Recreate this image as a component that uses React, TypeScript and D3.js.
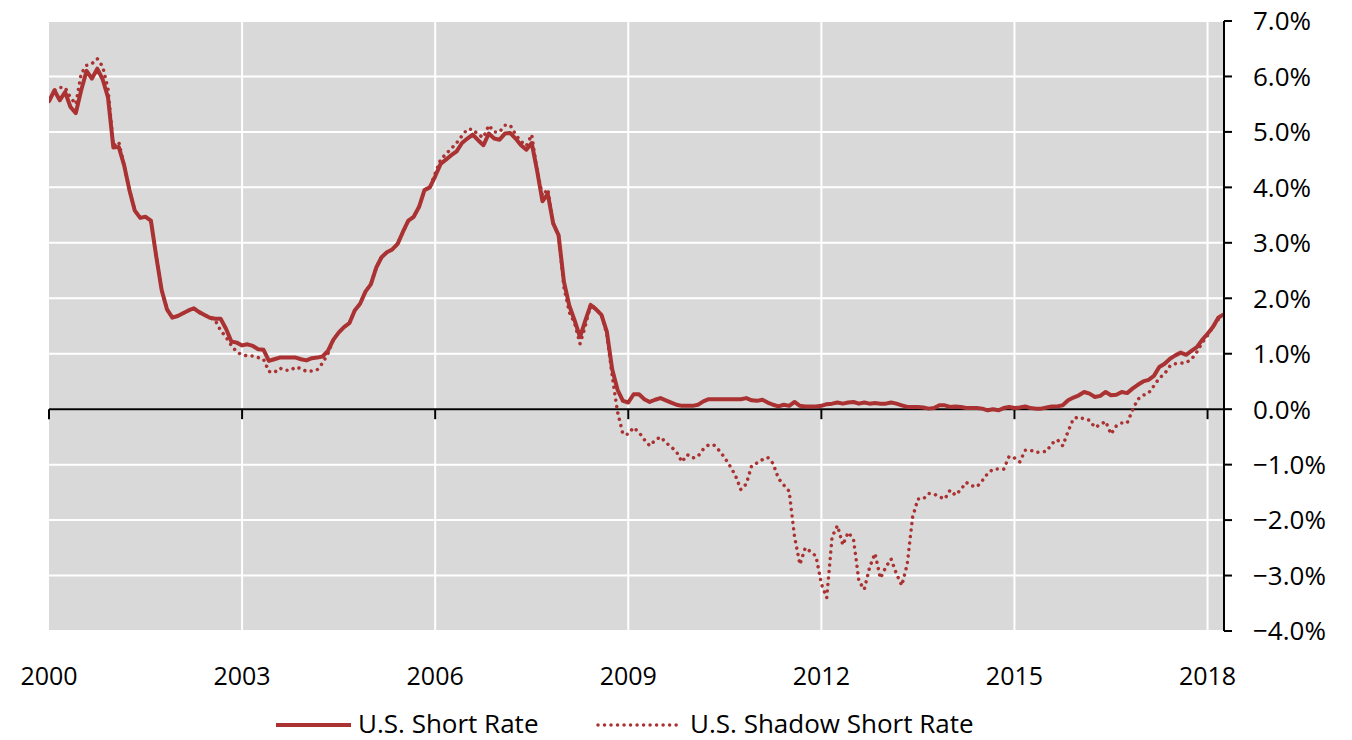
import React from "react";
import * as d3 from "d3";

document.body.style.margin = "0";

const startYear = 2000;
const shortRate: number[] = [
  // 2000
  5.55, 5.75, 5.57, 5.72, 5.45, 5.34, 5.75, 6.10, 5.96, 6.14, 5.95, 5.62,
  // 2001
  4.72, 4.73, 4.40, 3.95, 3.58, 3.45, 3.47, 3.40, 2.75, 2.15, 1.80, 1.65,
  // 2002
  1.68, 1.73, 1.78, 1.82, 1.75, 1.70, 1.65, 1.63, 1.63, 1.45, 1.22, 1.20,
  // 2003
  1.15, 1.17, 1.14, 1.08, 1.07, 0.87, 0.90, 0.93, 0.93, 0.93, 0.93, 0.90,
  // 2004
  0.88, 0.92, 0.93, 0.95, 1.05, 1.25, 1.38, 1.48, 1.55, 1.78, 1.90, 2.12,
  // 2005
  2.25, 2.55, 2.74, 2.83, 2.88, 2.98, 3.20, 3.40, 3.47, 3.65, 3.95, 4.00,
  // 2006
  4.20, 4.42, 4.50, 4.58, 4.65, 4.80, 4.88, 4.95, 4.85, 4.76, 4.97, 4.88,
  // 2007
  4.86, 4.97, 4.98, 4.88, 4.76, 4.68, 4.80, 4.30, 3.75, 3.88, 3.35, 3.14,
  // 2008
  2.30, 1.87, 1.60, 1.30, 1.60, 1.88, 1.80, 1.70, 1.40, 0.72, 0.35, 0.15,
  // 2009
  0.12, 0.27, 0.27, 0.18, 0.13, 0.17, 0.20, 0.16, 0.12, 0.08, 0.06, 0.06,
  // 2010
  0.06, 0.08, 0.14, 0.18, 0.18, 0.18, 0.18, 0.18, 0.18, 0.18, 0.20, 0.16,
  // 2011
  0.15, 0.17, 0.12, 0.08, 0.05, 0.08, 0.06, 0.13, 0.06, 0.05, 0.05, 0.05,
  // 2012
  0.06, 0.09, 0.10, 0.12, 0.10, 0.12, 0.13, 0.10, 0.12, 0.10, 0.11, 0.10,
  // 2013
  0.10, 0.12, 0.10, 0.07, 0.04, 0.04, 0.04, 0.03, 0.01, 0.02, 0.07, 0.07,
  // 2014
  0.04, 0.05, 0.04, 0.02, 0.02, 0.02, 0.01, -0.02, 0.00, -0.02, 0.02, 0.04,
  // 2015
  0.02, 0.03, 0.05, 0.02, 0.01, 0.01, 0.03, 0.05, 0.05, 0.07, 0.16, 0.21,
  // 2016
  0.25, 0.31, 0.28, 0.22, 0.24, 0.31, 0.25, 0.26, 0.31, 0.29, 0.37, 0.44,
  // 2017
  0.50, 0.53, 0.60, 0.76, 0.82, 0.91, 0.97, 1.02, 0.98, 1.05, 1.12, 1.25,
  // 2018
  1.36, 1.48, 1.65, 1.71,
];

const shadowRate: number[] = [
  // 2000
  5.55, 5.75, 5.80, 5.80, 5.62, 5.50, 6.05, 6.20, 6.23, 6.32, 6.18, 5.78,
  // 2001
  4.75, 4.82, 4.40, 3.95, 3.58, 3.45, 3.47, 3.40, 2.75, 2.15, 1.80, 1.65,
  // 2002
  1.68, 1.73, 1.78, 1.82, 1.75, 1.70, 1.65, 1.60, 1.42, 1.30, 1.15, 1.03,
  // 2003
  0.98, 0.96, 0.96, 0.93, 0.90, 0.68, 0.66, 0.74, 0.70, 0.70, 0.76, 0.73,
  // 2004
  0.68, 0.69, 0.71, 0.83, 1.00, 1.25, 1.38, 1.48, 1.55, 1.78, 1.90, 2.12,
  // 2005
  2.25, 2.55, 2.74, 2.83, 2.88, 2.98, 3.20, 3.40, 3.47, 3.65, 3.95, 4.00,
  // 2006
  4.25, 4.50, 4.60, 4.70, 4.80, 4.93, 5.05, 5.05, 4.95, 4.90, 5.12, 5.00,
  // 2007
  5.00, 5.12, 5.12, 4.95, 4.83, 4.75, 4.95, 4.30, 3.85, 3.97, 3.35, 3.14,
  // 2008
  2.20, 1.75, 1.55, 1.18, 1.50, 1.90, 1.80, 1.70, 1.35, 0.60, -0.05, -0.45,
  // 2009
  -0.45, -0.33, -0.42, -0.55, -0.66, -0.56, -0.50, -0.60, -0.68, -0.77, -0.95, -0.82,
  // 2010
  -0.88, -0.85, -0.72, -0.64, -0.65, -0.75, -0.88, -1.03, -1.20, -1.45, -1.35, -1.02,
  // 2011
  -0.97, -0.91, -0.87, -0.98, -1.25, -1.37, -1.48, -2.30, -2.80, -2.50, -2.57, -2.65,
  // 2012
  -3.15, -3.40, -2.30, -2.10, -2.45, -2.22, -2.35, -3.10, -3.25, -2.85, -2.60, -3.05,
  // 2013
  -2.85, -2.70, -2.97, -3.18, -2.80, -1.95, -1.62, -1.62, -1.52, -1.53, -1.58, -1.62,
  // 2014
  -1.46, -1.55, -1.45, -1.32, -1.38, -1.40, -1.29, -1.16, -1.08, -1.08, -1.08, -0.85,
  // 2015
  -0.88, -0.95, -0.74, -0.74, -0.78, -0.77, -0.76, -0.62, -0.55, -0.66, -0.40, -0.17,
  // 2016
  -0.14, -0.18, -0.20, -0.33, -0.28, -0.22, -0.45, -0.30, -0.25, -0.25, -0.02, 0.18,
  // 2017
  0.25, 0.29, 0.42, 0.56, 0.64, 0.78, 0.82, 0.83, 0.84, 0.90, 1.03, 1.20,
  // 2018
  1.33, 1.48, 1.62, 1.70,
];

const xTickYears: number[] = [2000, 2003, 2006, 2009, 2012, 2015, 2018];
const yTickValues: number[] = [7, 6, 5, 4, 3, 2, 1, 0, -1, -2, -3, -4];
const seriesNames: string[] = ["U.S. Short Rate", "U.S. Shadow Short Rate"];

const W = 1352;
const H = 740;
const COLOR = "#aa3232";
const FONT = "'Open Sans', 'Noto Sans', sans-serif";

export default function App() {
  const x = d3.scaleLinear().domain([2000, 2018.24]).range([49, 1223]);
  const y = d3.scaleLinear().domain([-4, 7]).range([631, 21]);

  const toPts = (arr: number[]) =>
    arr.map((v, i) => [startYear + i / 12, v] as [number, number]);

  const line = d3
    .line<[number, number]>()
    .x((d) => x(d[0]))
    .y((d) => y(d[1]));

  const [x0, x1] = x.range();
  const [yBottom, yTop] = y.range();

  return (
    <svg width={W} height={H} style={{ display: "block" }} fontFamily={FONT}>
      <defs>
        <clipPath id="plotclip">
          <rect x={x0} y={yTop - 3} width={x1 - x0} height={yBottom - yTop + 6} />
        </clipPath>
      </defs>
      <rect x={x0} y={yTop} width={x1 - x0} height={yBottom - yTop} fill="#d9d9d9" />
      {yTickValues.map((v) => (
        <line key={"gy" + v} x1={x0} x2={x1} y1={y(v)} y2={y(v)} stroke="#ffffff" strokeWidth={2} />
      ))}
      {xTickYears.slice(1).map((yr) => (
        <line key={"gx" + yr} x1={x(yr)} x2={x(yr)} y1={yTop} y2={yBottom} stroke="#ffffff" strokeWidth={2} />
      ))}
      {/* zero axis */}
      <line x1={x0} x2={x1 + 1} y1={y(0)} y2={y(0)} stroke="#000" strokeWidth={2} />
      {xTickYears.map((yr) => (
        <line key={"tx" + yr} x1={x(yr)} x2={x(yr)} y1={y(0)} y2={y(0) + 10} stroke="#000" strokeWidth={2} />
      ))}
      {/* right y axis */}
      <line x1={x1 + 1} x2={x1 + 1} y1={yTop} y2={yBottom} stroke="#000" strokeWidth={2} />
      {yTickValues.map((v) => (
        <line key={"ty" + v} x1={x1 + 1} x2={x1 + 9} y1={y(v)} y2={y(v)} stroke="#000" strokeWidth={2} />
      ))}
      {yTickValues.map((v) => (
        <text key={"ly" + v} x={1253} y={y(v)} dy="0.36em" fontSize={26} fill="#000">
          {d3.format(".1f")(v) + "%"}
        </text>
      ))}
      {xTickYears.map((yr) => (
        <text key={"lx" + yr} x={x(yr)} y={676} dy="0.36em" fontSize={25} textAnchor="middle" fill="#000">
          {String(yr)}
        </text>
      ))}
      <g clipPath="url(#plotclip)">
        <path d={line(toPts(shadowRate)) || ""} fill="none" stroke={COLOR} strokeWidth={3.5}
          strokeDasharray="0.01 6.5" strokeLinecap="round" strokeLinejoin="round" />
        <path d={line(toPts(shortRate)) || ""} fill="none" stroke={COLOR} strokeWidth={4}
          strokeLinejoin="round" />
      </g>
      {/* legend */}
      <line x1={276} x2={351} y1={725} y2={725} stroke={COLOR} strokeWidth={4} />
      <text x={358} y={724} dy="0.36em" fontSize={26} fill="#000">{seriesNames[0]}</text>
      <line x1={598} x2={682} y1={725} y2={725} stroke={COLOR} strokeWidth={3.5}
        strokeDasharray="0.01 6.5" strokeLinecap="round" />
      <text x={690} y={724} dy="0.36em" fontSize={26} fill="#000">{seriesNames[1]}</text>
    </svg>
  );
}
